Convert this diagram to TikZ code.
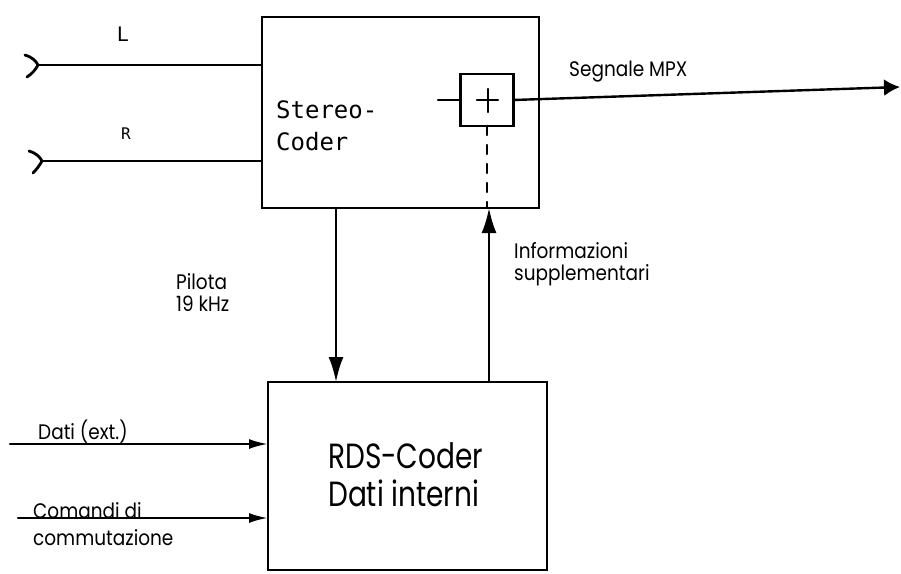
\documentclass[tikz,border=0pt]{standalone}
\usepackage{fontspec}
\setmainfont{Poppins}[FakeStretch=0.88]
\newfontfamily\bigf{Poppins}[FakeStretch=0.8]
\newfontfamily\monof{DejaVu Sans Mono}
\usetikzlibrary{arrows.meta}
\begin{document}
\begin{tikzpicture}[x=1pt,y=-1pt,line width=2.4pt,line cap=round,
  blk/.style={draw,line width=2.8pt,inner sep=0pt,outer sep=0pt},
  lbl/.style={font=\fontsize{21}{25}\selectfont,inner sep=0pt,anchor=base west},
  big/.style={font=\bigf\fontsize{35}{40}\selectfont,inner sep=0pt,anchor=base west},
  mono/.style={font=\monof\fontsize{24}{32}\selectfont,inner sep=0pt,anchor=base west},
  arr/.style={-{Latex[length=25pt,width=15pt]}},
  arrs/.style={-{Latex[length=19pt,width=10pt]}},
  arro/.style={-{Latex[length=16pt,width=17pt]}}]
\useasboundingbox[fill=white] (0,0) rectangle (901,573);
% blocks
\node[blk,minimum width=277pt,minimum height=191pt] (sc) at (400.5,112.5) {};
\node[blk,minimum width=53pt,minimum height=52pt] (pl) at (487,100) {};
\node[blk,minimum width=279pt,minimum height=188pt] (rds) at (407.5,476) {};
% texts in blocks
\node[mono] (st1) at (275,118) {Stereo-};
\node[mono] (st2) at (275,150) {Coder};
\node[big] (rt1) at (327,468) {RDS-Coder};
\node[big] (rt2) at (327,506) {Dati interni};
% plus sign
\draw (488,89) -- (488,112);
\draw (477,100) -- (498,100);
% inputs L and R
\coordinate (inL) at (38,65);
\coordinate (inR) at (42,161);
\draw (inL) -- (inL -| sc.west);
\draw (inR) -- (inR -| sc.west);
\draw[line width=2.8pt] (25,55) .. controls (32,57) and (36,61) .. (inL) .. controls (36,69) and (32,74) .. (27,77);
\draw[line width=2.8pt] (29,151) .. controls (36,153) and (40,157) .. (inR) .. controls (40,165) and (36,170) .. (33,173);
\node[font=\monof\fontsize{20}{24}\selectfont,inner sep=0pt] (lL) at (123,34) {L};
\node[font=\monof\fontsize{16}{20}\selectfont,inner sep=0pt] (lR) at (126,134) {R};
% adder input and output
\coordinate (pin) at (438,100);
\draw (pin) -- (pl.west);
\coordinate (out) at (900,87);
\draw[arro] (pl.east) -- (out);
\node[lbl] (lmpx) at (568,76) {Segnale MPX};
% dashed link
\draw[dashed,dash pattern=on 9pt off 10pt] (pl.south) -- (pl.south |- sc.south);
% vertical connectors
\coordinate (pX) at (336,0);
\draw[arr] (pX |- sc.south) -- (pX |- rds.north);
\coordinate (iX) at (489,0);
\draw[arr] (iX |- rds.north) -- (iX |- sc.south);
\node[lbl] (lp1) at (175,289) {Pilota};
\node[lbl] (lp2) at (175,311) {19 kHz};
\node[lbl] (li1) at (513,258) {Informazioni};
\node[lbl] (li2) at (513,280) {supplementari};
% data inputs
\coordinate (dIn) at (10,444);
\draw[arrs] (dIn) -- (dIn -| rds.west);
\node[lbl] (ld) at (37,439) {Dati (ext.)};
\coordinate (cIn) at (18,518);
\draw[arrs] (cIn) -- (cIn -| rds.west);
\node[lbl] (lc1) at (32,518) {Comandi di};
\node[lbl] (lc2) at (32,545) {commutazione};
\end{tikzpicture}
\end{document}
